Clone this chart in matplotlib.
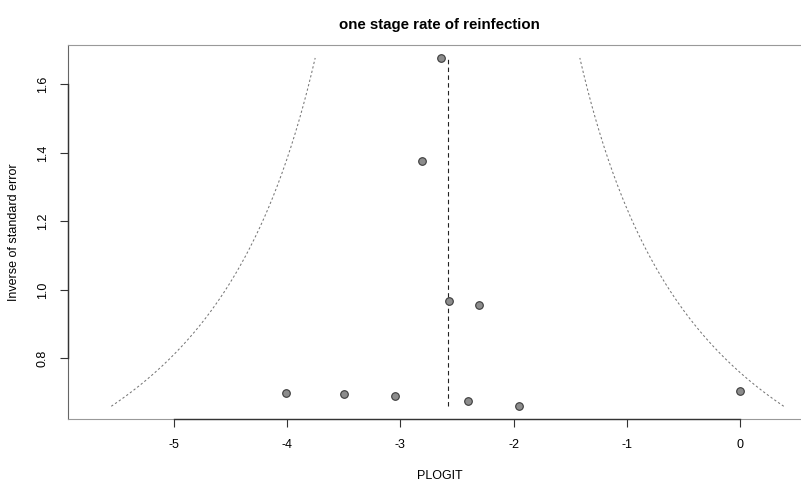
import matplotlib
matplotlib.use("Agg")
import matplotlib.pyplot as plt
import numpy as np

# Study estimates (logit proportion) and inverse standard error
plogit = [-2.643, -2.808, -2.567, -2.305, -4.01, -3.50, -3.05, -2.399, -1.949, 0.0]
inv_se = [1.677, 1.376, 0.966, 0.956, 0.699, 0.695, 0.689, 0.676, 0.660, 0.706]
pooled = -2.584
xticks = [-5, -4, -3, -2, -1, 0]
yticks = [0.8, 1.0, 1.2, 1.4, 1.6]
title = "one stage rate of reinfection"
xlabel = "PLOGIT"
ylabel = "Inverse of standard error"

plt.rcParams['font.family'] = ['Liberation Sans', 'DejaVu Sans']

fig = plt.figure(figsize=(8.01, 4.83), dpi=100)
ax = fig.add_axes([0.0853, 0.1319, 0.9284, 0.7743])
ax.set_xlim(-5.933, 0.635)
ax.set_ylim(0.622, 1.714)

ymin, ymax = min(inv_se), max(inv_se)
yy = np.linspace(ymin, ymax, 200)
ax.plot(pooled - 1.96 / yy, yy, color='#777777', lw=0.75, ls=(0, (2.2, 2.2)))
ax.plot(pooled + 1.96 / yy, yy, color='#777777', lw=0.75, ls=(0, (2.2, 2.2)))
ax.plot([pooled, pooled], [ymin, ymax], color='#222222', lw=0.8, ls=(0, (4, 3)))

ax.scatter(plogit, inv_se, s=30, facecolor='#8c8c8c', edgecolor='#3a3a3a', linewidth=0.8, zorder=3)

for side in ['top', 'right', 'bottom', 'left']:
    ax.spines[side].set_linewidth(0.8)
ax.spines['top'].set_color('#999999')
ax.spines['bottom'].set_color('#999999')
ax.spines['left'].set_color('#666666')
ax.spines['right'].set_color('#999999')

# R-style axis lines spanning first to last tick
ax.plot([xticks[0], xticks[-1]], [0.622, 0.622], color='#333333', lw=1.0, clip_on=False, zorder=4)
ax.plot([-5.933, -5.933], [yticks[0], yticks[-1]], color='#333333', lw=1.0, clip_on=False, zorder=4)

ax.set_xticks(xticks)
ax.set_xticklabels([str(t) for t in xticks])
ax.set_yticks(yticks)
ax.set_yticklabels([f"{t:.1f}" for t in yticks], rotation=90, va='center')
ax.tick_params(axis='both', length=6, width=0.8, color='#333333', labelsize=9, pad=8)

ax.set_xlabel(xlabel, fontsize=9, labelpad=14)
ax.set_ylabel(ylabel, fontsize=9, labelpad=12)
fig.text(0.549, 0.949, title, fontsize=10.8, fontweight='bold', ha='center', va='center')

fig.savefig("out.png", dpi=100)
